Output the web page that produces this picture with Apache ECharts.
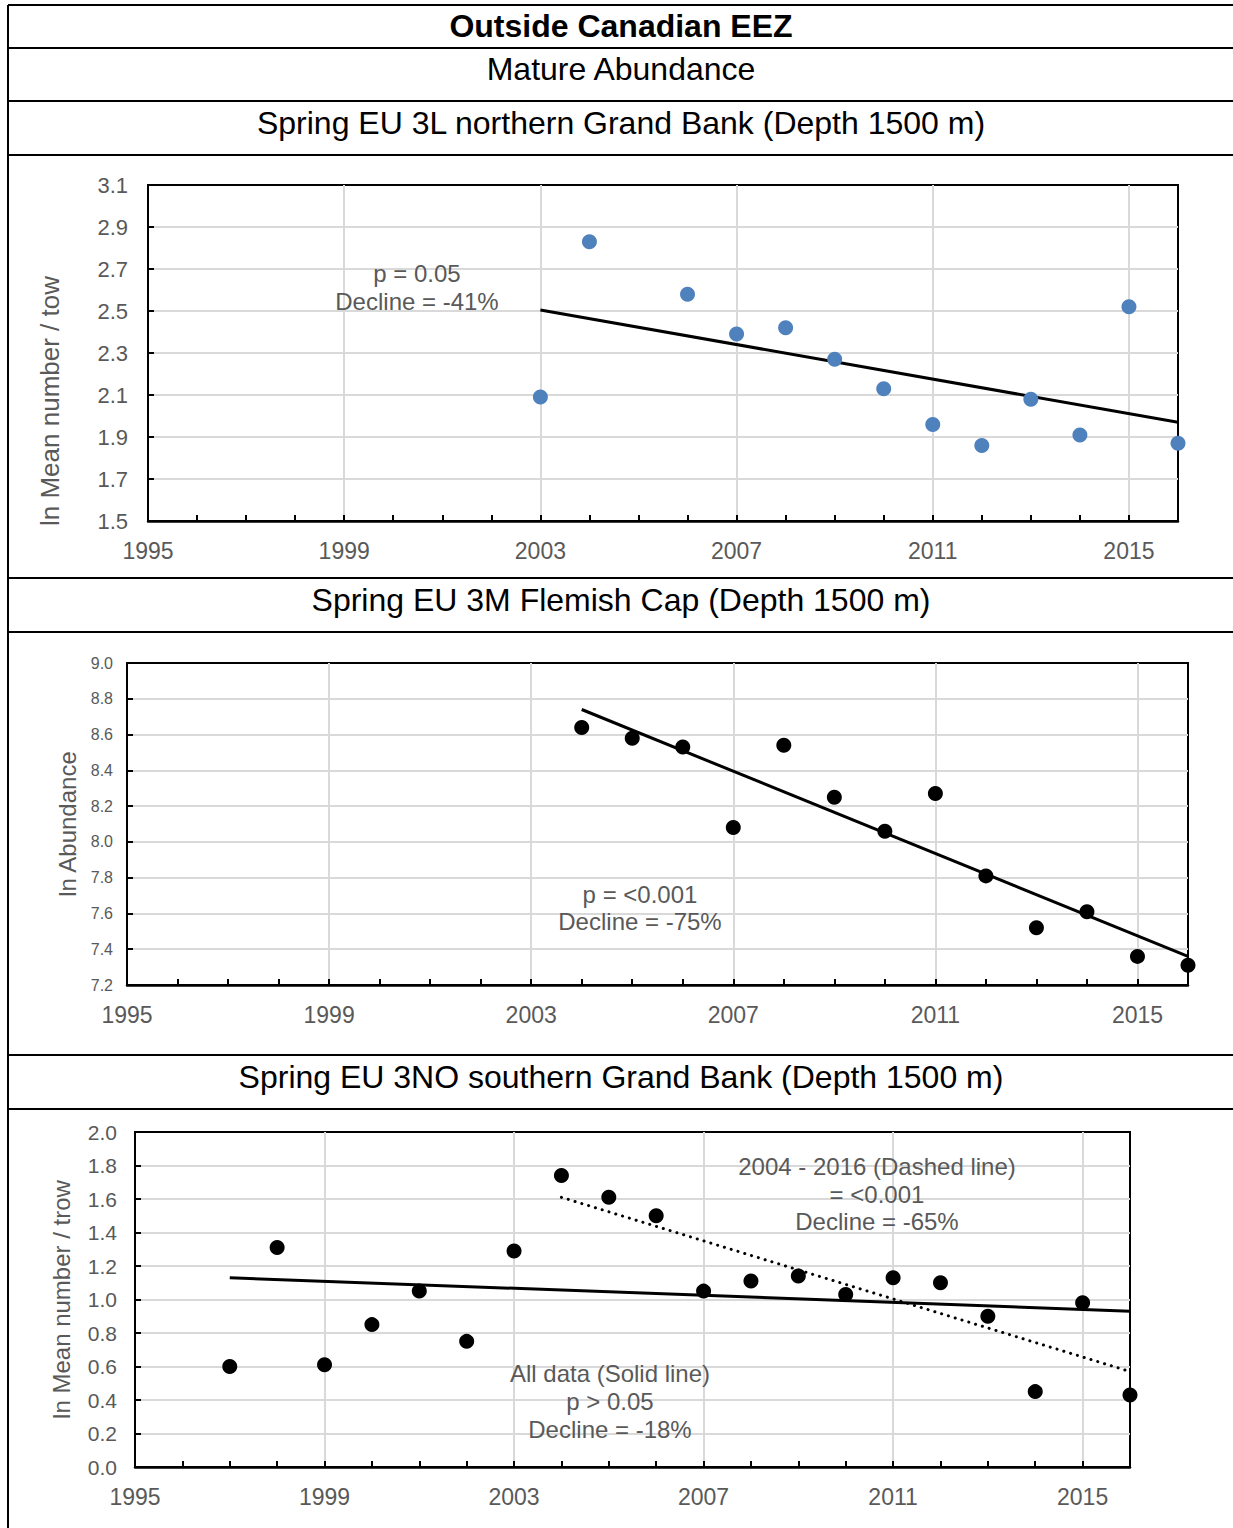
<!DOCTYPE html>
<html>
<head>
<meta charset="utf-8">
<title>Outside Canadian EEZ - Mature Abundance</title>
<script src="https://cdn.jsdelivr.net/npm/echarts@6/dist/echarts.min.js"></script>
<style>
  html, body { margin: 0; padding: 0; background: #fff; }
  #chart { width: 1233px; height: 1528px; }
</style>
</head>
<body>
<div id="chart"></div>
<script>
// ---- data ----
// 3L northern Grand Bank
const years3L = [2003, 2004, 2006, 2007, 2008, 2009, 2010, 2011, 2012, 2013, 2014, 2015, 2016];
const values3L = [2.09, 2.83, 2.58, 2.39, 2.42, 2.27, 2.13, 1.96, 1.86, 2.08, 1.91, 2.52, 1.87];
const trendYears3L = [2003, 2016];
const trendValues3L = [2.505, 1.97];

// 3M Flemish Cap
const years3M = [2004, 2005, 2006, 2007, 2008, 2009, 2010, 2011, 2012, 2013, 2014, 2015, 2016];
const values3M = [8.64, 8.58, 8.53, 8.08, 8.54, 8.25, 8.06, 8.27, 7.81, 7.52, 7.61, 7.36, 7.31];
const trendYears3M = [2004, 2016];
const trendValues3M = [8.74, 7.36];

// 3NO southern Grand Bank
const years3NO = [1997, 1998, 1999, 2000, 2001, 2002, 2003, 2004, 2005, 2006, 2007, 2008, 2009, 2010, 2011, 2012, 2013, 2014, 2015, 2016];
const values3NO = [0.60, 1.31, 0.61, 0.85, 1.05, 0.75, 1.29, 1.74, 1.61, 1.50, 1.05, 1.11, 1.14, 1.03, 1.13, 1.10, 0.90, 0.45, 0.98, 0.43];
const solidYears3NO = [1997, 2016];
const solidValues3NO = [1.13, 0.93];
const dottedYears3NO = [2004, 2016];
const dottedValues3NO = [1.61, 0.57];

const yearTicks = [1995, 1999, 2003, 2007, 2011, 2015];

const FONT = "'Liberation Sans', Arial, sans-serif";
const GREY = "#595959";

const zip = (xs, ys) => xs.map((x, i) => [x, ys[i]]);

// 两根x轴：一根画逐年刻度，一根画标签和网格线
const makeXAxes = (gridIndex) => [
  {
    type: "value", gridIndex, min: yearTicks[0], max: 2016, interval: 1,
    axisLine: { show: true, lineStyle: { color: "#000", width: 2.5 } },
    axisTick: { show: true, inside: true, length: 6, lineStyle: { color: "#000", width: 2 } },
    axisLabel: { show: false },
    splitLine: { show: false }
  },
  {
    type: "value", gridIndex, min: yearTicks[0], max: 2016, interval: 4, position: "bottom",
    axisLine: { show: false },
    axisTick: { show: false },
    axisLabel: {
      show: true, margin: 18, fontSize: 23, color: GREY, fontFamily: FONT, showMaxLabel: false,
      formatter: (v) => String(v)
    },
    splitLine: { show: true, showMinLine: false, showMaxLine: false, lineStyle: { color: "#d9d9d9", width: 2 } }
  }
];

const makeYAxis = (gridIndex, min, max, name, nameGap, labelSize, labelMargin) => ({
  type: "value", gridIndex, min, max, interval: 0.2,
  name, nameLocation: "middle", nameGap,
  nameTextStyle: { fontSize: 24, color: GREY, fontFamily: FONT },
  axisLine: { show: true, lineStyle: { color: "#000", width: 2 } },
  axisTick: { show: true, inside: true, length: 6, lineStyle: { color: "#000", width: 2 } },
  axisLabel: {
    fontSize: labelSize, color: GREY, fontFamily: FONT, margin: labelMargin,
    formatter: (v) => v.toFixed(1)
  },
  splitLine: { show: true, showMinLine: false, showMaxLine: false, lineStyle: { color: "#d9d9d9", width: 2 } }
});

const hLine = (y) => ({
  type: "line", shape: { x1: 8, y1: y, x2: 1233, y2: y },
  style: { stroke: "#000", lineWidth: 2 }
});

const label = (text, x, y, size, color, weight) => ({
  type: "text", z: 10,
  style: {
    text, x, y, fill: color || GREY,
    font: (weight || "normal") + " " + size + "px " + FONT,
    align: "center", verticalAlign: "middle"
  }
});

const trendSeries = (xAxisIndex, yAxisIndex, xs, ys, dotted) => ({
  type: "line", xAxisIndex, yAxisIndex, data: zip(xs, ys),
  symbol: "none", silent: true, clip: false,
  lineStyle: dotted
    ? { color: "#000", width: 3, type: [0.1, 7], cap: "round" }
    : { color: "#000", width: 3 },
  z: 3
});

const dotSeries = (xAxisIndex, yAxisIndex, xs, ys, color) => ({
  type: "scatter", xAxisIndex, yAxisIndex, data: zip(xs, ys),
  symbol: "circle", symbolSize: 15, clip: false,
  itemStyle: { color, opacity: 1 },
  z: 4
});

const chart = echarts.init(document.getElementById("chart"), null, { renderer: "svg" });

const option = {
  backgroundColor: "#fff",
  animation: false,
  grid: [
    { left: 148, top: 185, width: 1030, height: 336, show: true, borderColor: "#000", borderWidth: 2 },
    { left: 127, top: 663, width: 1061, height: 322, show: true, borderColor: "#000", borderWidth: 2 },
    { left: 135, top: 1132, width: 995, height: 335, show: true, borderColor: "#000", borderWidth: 2 }
  ],
  xAxis: [...makeXAxes(0), ...makeXAxes(1), ...makeXAxes(2)],
  yAxis: [
    makeYAxis(0, 1.5, 3.1, "", 0, 22, 20),
    makeYAxis(1, 7.2, 9.0, "ln Abundance", 46, 16, 14),
    makeYAxis(2, 0, 2.0, "ln Mean number / trow", 62, 21, 18)
  ],
  graphic: [
    // table frame
    { type: "line", shape: { x1: 8, y1: 5, x2: 8, y2: 1528 }, style: { stroke: "#000", lineWidth: 2 } },
    hLine(5), hLine(48), hLine(101), hLine(155),
    hLine(578), hLine(632), hLine(1055), hLine(1109),
    // header rows
    label("Outside Canadian EEZ", 621, 26, 32, "#000", "bold"),
    label("Mature Abundance", 621, 69, 32, "#000"),
    label("Spring EU 3L northern Grand Bank (Depth 1500 m)", 621, 123, 32, "#000"),
    label("Spring EU 3M Flemish Cap (Depth 1500 m)", 621, 600, 32, "#000"),
    label("Spring EU 3NO southern Grand Bank (Depth 1500 m)", 621, 1077, 32, "#000"),
    // first panel's y title sits below the axis middle
    {
      type: "text", x: 50, y: 401, rotation: Math.PI / 2, z: 10,
      style: {
        text: "ln Mean number / tow", fill: GREY, font: "26px " + FONT,
        align: "center", verticalAlign: "middle"
      }
    },
    // annotations
    label("p = 0.05", 417, 273, 24),
    label("Decline = -41%", 417, 301, 24),
    label("p = <0.001", 640, 894, 24),
    label("Decline = -75%", 640, 921, 24),
    label("2004 - 2016 (Dashed line)", 877, 1166, 24),
    label("= <0.001", 877, 1194, 24),
    label("Decline = -65%", 877, 1221, 24),
    label("All data (Solid line)", 610, 1373, 24),
    label("p > 0.05", 610, 1401, 24),
    label("Decline = -18%", 610, 1429, 24)
  ],
  series: [
    trendSeries(0, 0, trendYears3L, trendValues3L, false),
    dotSeries(0, 0, years3L, values3L, "#4f81bd"),
    trendSeries(2, 1, trendYears3M, trendValues3M, false),
    dotSeries(2, 1, years3M, values3M, "#000"),
    trendSeries(4, 2, solidYears3NO, solidValues3NO, false),
    trendSeries(4, 2, dottedYears3NO, dottedValues3NO, true),
    dotSeries(4, 2, years3NO, values3NO, "#000")
  ]
};

chart.setOption(option);
</script>
</body>
</html>
